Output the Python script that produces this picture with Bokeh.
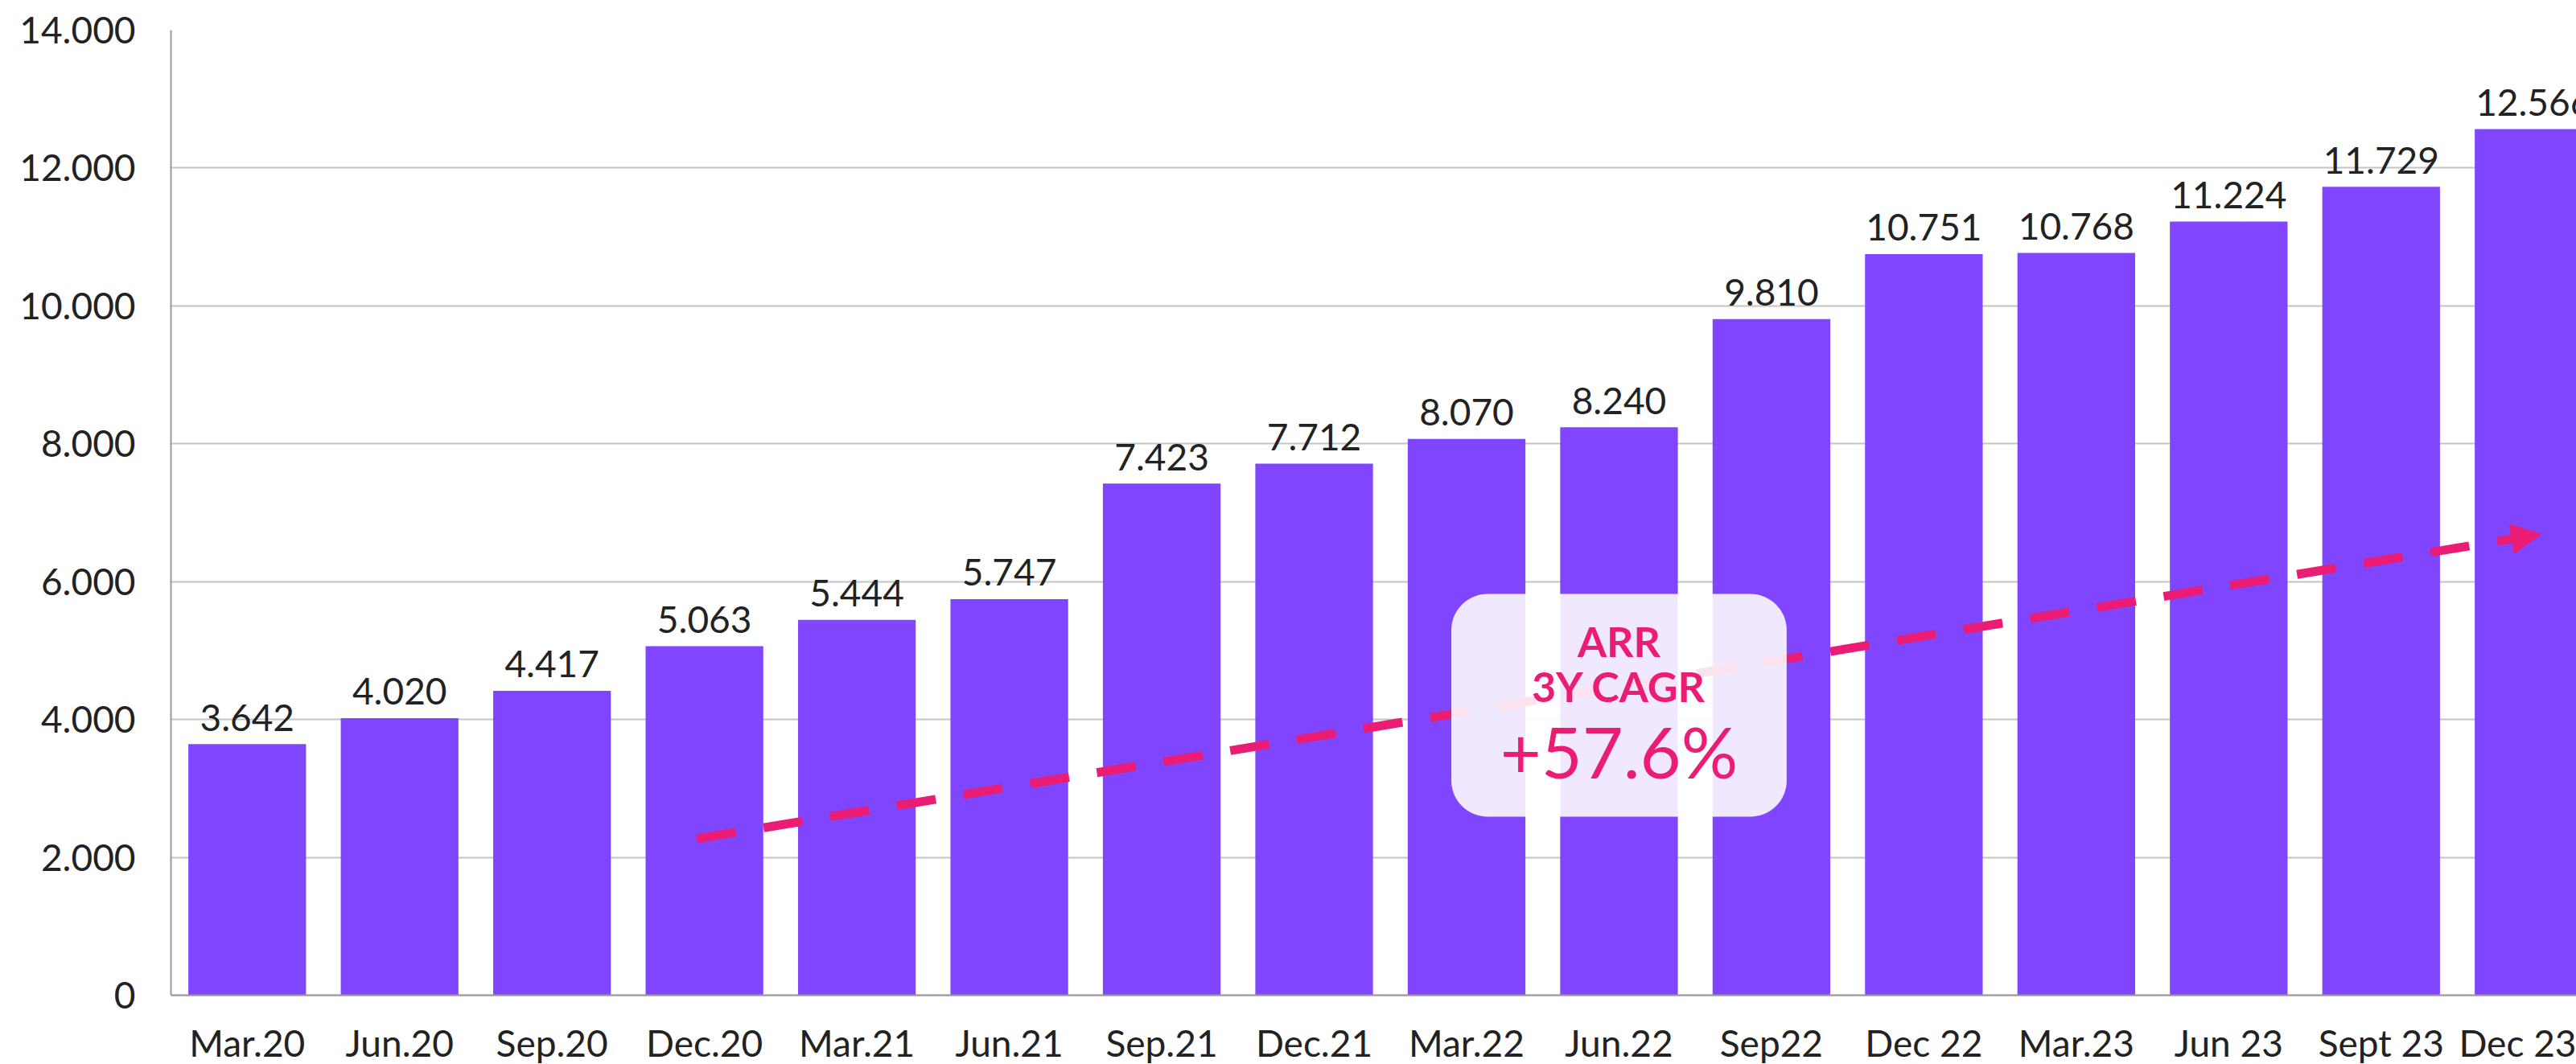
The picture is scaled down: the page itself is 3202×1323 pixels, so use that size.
from bokeh.plotting import figure
from bokeh.models import (ColumnDataSource, Range1d, FixedTicker, BoxAnnotation,
                          Label, Arrow, NormalHead)
from bokeh.core.properties import value
from bokeh.embed import file_html
from bokeh.resources import INLINE

# ---- data ----
quarters = ["Mar.20", "Jun.20", "Sep.20", "Dec.20", "Mar.21", "Jun.21", "Sep.21",
            "Dec.21", "Mar.22", "Jun.22", "Sep22", "Dec 22", "Mar.23", "Jun 23",
            "Sept 23", "Dec 23"]
arr_values = [3642, 4020, 4417, 5063, 5444, 5747, 7423, 7712, 8070, 8240, 9810,
              10751, 10768, 11224, 11729, 12566]
y_ticks = [0, 2000, 4000, 6000, 8000, 10000, 12000, 14000]
y_tick_labels = ["0", "2.000", "4.000", "6.000", "8.000", "10.000", "12.000", "14.000"]

# annotation (trend arrow + CAGR box)
trend_start = (2.95, 2270)
trend_end = (15.05, 6690)
cagr_box = dict(left=7.9, right=10.1, bottom=2590, top=5822)
cagr_title = ["ARR", "3Y CAGR"]
cagr_value = "+57.6%"

BAR = "#8046FF"
PINK = "#EB1C73"
TXT = "#222222"
FONT = "Lato"

Y_MAX = 14000
PLOT_H = 1200          # pixel height of the 0..14000 span
BOTTOM_PX = 86         # room below the zero line for the category labels
y_bottom = -BOTTOM_PX * Y_MAX / PLOT_H

xs = list(range(len(quarters)))
value_labels = [f"{v:,}".replace(",", ".") for v in arr_values]
src = ColumnDataSource(dict(x=xs, v=arr_values, lab=value_labels))

p = figure(width=3202, height=1323, output_backend="svg", toolbar_location=None,
           x_range=Range1d(-0.5, 15.281), y_range=Range1d(y_bottom, Y_MAX),
           min_border_left=212, min_border_right=0, min_border_top=37,
           min_border_bottom=0)
p.outline_line_color = None
p.background_fill_color = "white"
p.border_fill_color = "white"

p.vbar(x="x", top="v", width=0.772, source=src, fill_color=BAR, line_color=None)
p.text(x="x", y="v", text="lab", source=src, text_align="center",
       text_baseline="alphabetic", y_offset=-33, text_font=value(FONT),
       text_font_size="46px", text_color=TXT)

# axes
p.xaxis.fixed_location = 0
p.xaxis.ticker = FixedTicker(ticks=xs)
p.xaxis.major_label_overrides = {i: q for i, q in zip(xs, quarters)}
p.yaxis.ticker = FixedTicker(ticks=y_ticks)
p.yaxis.major_label_overrides = {t: l for t, l in zip(y_ticks, y_tick_labels)}
p.yaxis.bounds = (0, Y_MAX)
for ax in (p.xaxis, p.yaxis):
    ax.major_tick_line_color = None
    ax.minor_tick_line_color = None
    ax.major_tick_out = 0
    ax.major_tick_in = 0
    ax.axis_line_color = "#9a9a9a"
    ax.axis_line_width = 2
    ax.major_label_text_font = FONT
    ax.major_label_text_font_size = "46px"
    ax.major_label_text_color = TXT
p.yaxis.major_label_standoff = 44
p.xaxis.major_label_standoff = 31

p.xgrid.grid_line_color = None
p.ygrid.ticker = FixedTicker(ticks=y_ticks)
p.ygrid.grid_line_color = "#c4c4c4"
p.ygrid.grid_line_width = 2

# trend arrow
p.add_layout(Arrow(end=NormalHead(size=37, fill_color=PINK, line_color=PINK, line_width=1),
                   x_start=trend_start[0], y_start=trend_start[1],
                   x_end=trend_end[0], y_end=trend_end[1],
                   line_color=PINK, line_width=11, line_dash="49 35"))

# CAGR box
p.add_layout(BoxAnnotation(left=cagr_box["left"], right=cagr_box["right"],
                           bottom=cagr_box["bottom"], top=cagr_box["top"],
                           fill_color="white", fill_alpha=0.88, line_color=None,
                           border_radius=45))
cx = (cagr_box["left"] + cagr_box["right"]) / 2
p.add_layout(Label(x=cx, y=5140, text=cagr_title[0], text_align="center",
                   text_baseline="alphabetic", text_font=FONT, text_font_size="52px",
                   text_font_style="bold", text_color=PINK))
p.add_layout(Label(x=cx, y=4485, text=cagr_title[1], text_align="center",
                   text_baseline="alphabetic", text_font=FONT, text_font_size="52px",
                   text_font_style="bold", text_color=PINK))
p.add_layout(Label(x=cx, y=3540, text=cagr_value, text_align="center",
                   text_baseline="alphabetic", text_font=FONT, text_font_size="88px",
                   text_color=PINK))

open("out.html", "w").write(file_html(p, INLINE))
